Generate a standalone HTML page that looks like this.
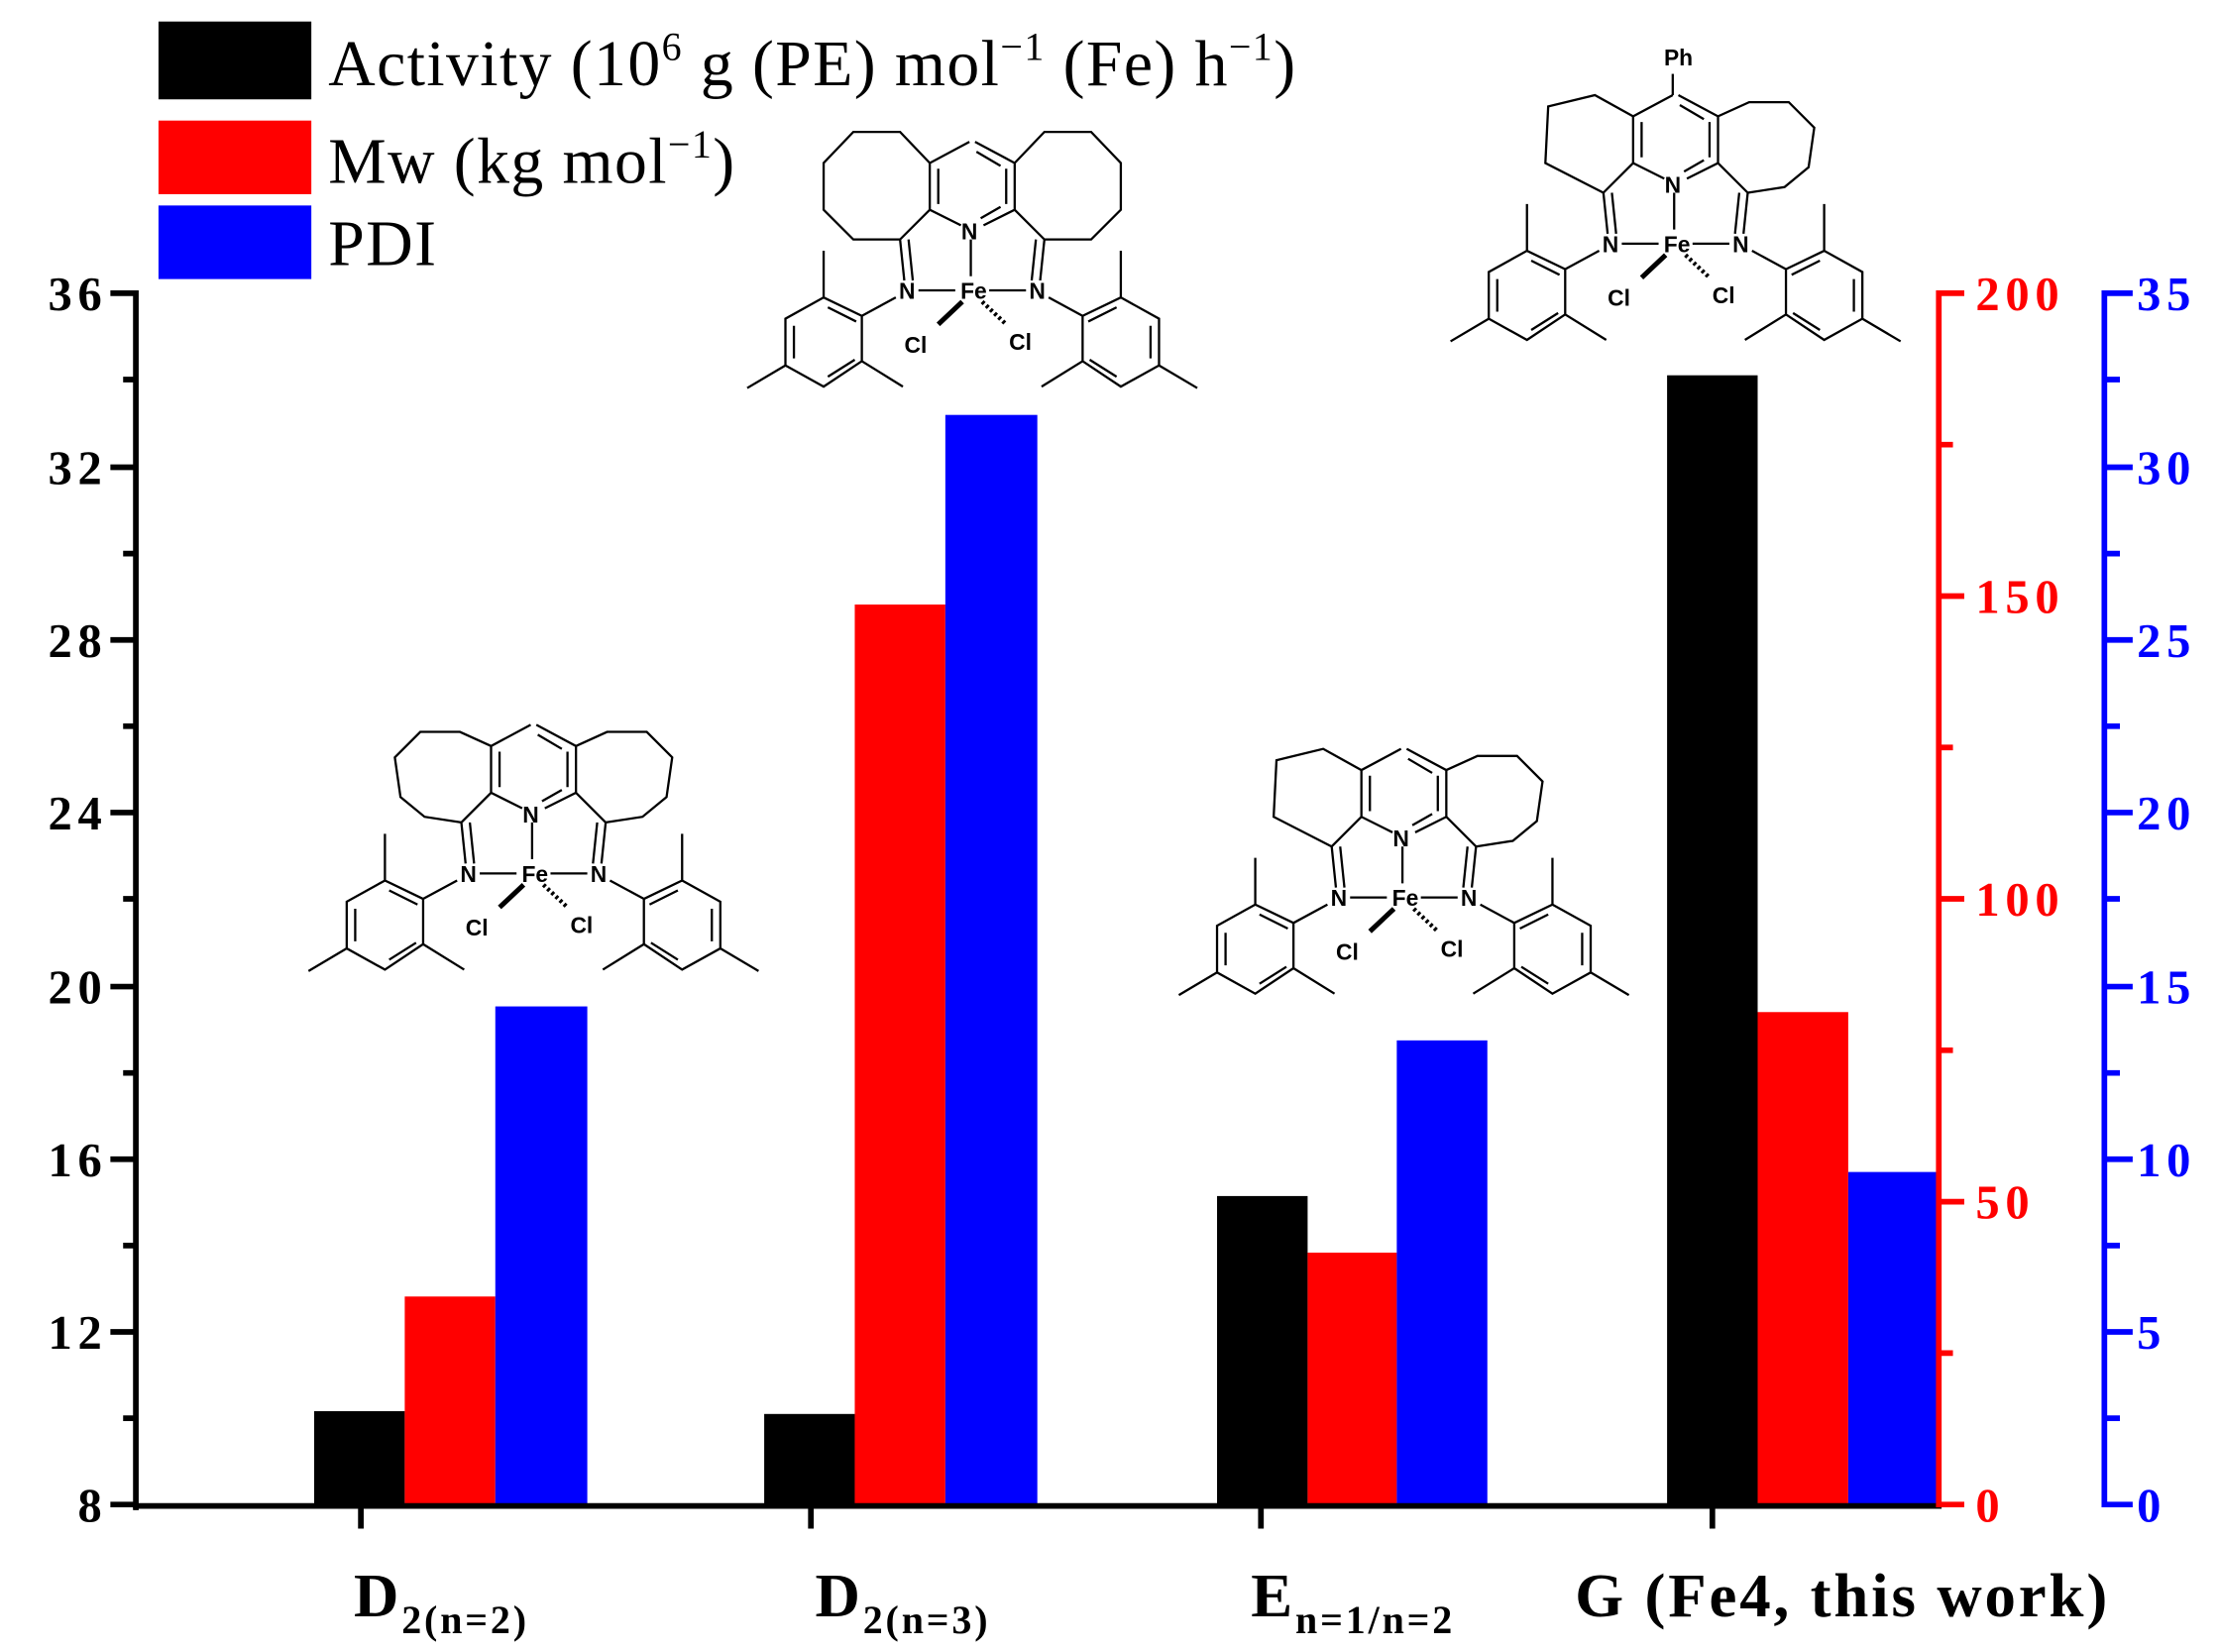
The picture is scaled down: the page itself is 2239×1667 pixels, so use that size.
<!DOCTYPE html>
<html><head><meta charset="utf-8"><style>
html,body{margin:0;padding:0;background:#fff;}
svg{display:block;}
.t{font-family:"Liberation Serif",serif;font-weight:bold;}
.s{font-family:"Liberation Sans",sans-serif;font-weight:bold;font-size:16px;fill:#000;}
</style></head><body>
<svg width="2239" height="1667" viewBox="0 0 1568 1167" xmlns="http://www.w3.org/2000/svg">
<defs>
<g id="half" fill="none" stroke="#000" stroke-width="1.6">
<path d="M0,-63 L-28,-48 L-28,-15 L-6,-4 M-22,-44 L-22,-19 M-28,-15 L-49,6 M-49,6 L-46,35 M-43,6 L-40,35 M-36,42 L-10,42 M-52,47 L-76,60 M-76,60 L-103,47 L-130,62 L-130,95 L-103,110 L-76,92 Z M-103,47 L-103,14 M-130,95 L-157,111 M-76,92 L-47,110 M-100,54 L-80,64 M-124,67 L-124,90 M-100,103 L-81,91"/>
</g>
<g id="core">
<use href="#half"/>
<use href="#half" transform="translate(4,0) scale(-1,1)"/>
<path d="M1,6 L1,32 M5,-56 L22,-46 M8,-9 L22,-17" stroke="#000" stroke-width="1.6" fill="none"/>
<path d="M-5,50 L-22,66" stroke="#000" stroke-width="3.5"/>
<path d="M9,50 L26,66" stroke="#000" stroke-width="3" stroke-dasharray="2,2"/>
</g>
<path id="r8" fill="none" stroke="#000" stroke-width="1.6" d="M-28,-48 L-49,-70 L-82,-70 L-103,-48 L-103,-15 L-82,6 L-49,6"/>
<path id="r7" fill="none" stroke="#000" stroke-width="1.6" d="M-28,-48 L-50,-58 L-78,-58 L-96,-40 L-92,-12 L-75,2 L-49,6"/>
<path id="r6" fill="none" stroke="#000" stroke-width="1.6" d="M-28,-48 L-55,-63 L-88,-55 L-90,-15 L-49,6"/>
</defs>

<!-- legend -->
<rect x="112" y="15" width="108" height="55" fill="#000"/>
<rect x="112" y="85" width="108" height="52" fill="#f00"/>
<rect x="112" y="145" width="108" height="52" fill="#00f"/>
<g font-family="Liberation Serif,serif" font-size="46" letter-spacing="1">
<text x="232" y="60">Activity (10<tspan dy="-18" font-size="28">6</tspan><tspan dy="18"> g (PE) mol</tspan><tspan dy="-18" font-size="28">−1</tspan><tspan dy="18"> (Fe) h</tspan><tspan dy="-18" font-size="28">−1</tspan><tspan dy="18">)</tspan></text>
<text x="232" y="129">Mw (kg mol<tspan dy="-18" font-size="28">−1</tspan><tspan dy="18">)</tspan></text>
<text x="232" y="187">PDI</text>
</g>

<!-- bars -->
<g>
<rect x="222" y="997" width="64" height="66" fill="#000"/>
<rect x="286" y="916" width="64" height="147" fill="#f00"/>
<rect x="350" y="711" width="65" height="352" fill="#00f"/>
<rect x="540" y="999" width="64" height="64" fill="#000"/>
<rect x="604" y="427" width="64" height="636" fill="#f00"/>
<rect x="668" y="293" width="65" height="770" fill="#00f"/>
<rect x="860" y="845" width="64" height="218" fill="#000"/>
<rect x="924" y="885" width="63" height="178" fill="#f00"/>
<rect x="987" y="735" width="64" height="328" fill="#00f"/>
<rect x="1178" y="265" width="64" height="798" fill="#000"/>
<rect x="1242" y="715" width="64" height="348" fill="#f00"/>
<rect x="1306" y="828" width="64" height="235" fill="#00f"/>
</g>

<!-- left axis -->
<g stroke="#000" stroke-width="4">
<line x1="96" y1="205" x2="96" y2="1067"/>
<line x1="94" y1="1064" x2="1372" y2="1064"/>
<path d="M78,207H96 M78,330H96 M78,452H96 M78,574H96 M78,697H96 M78,819H96 M78,941H96 M78,1063H96 M87,268H96 M87,391H96 M87,513H96 M87,635H96 M87,758H96 M87,880H96 M87,1002H96"/>
<path d="M255,1064V1080 M573,1064V1080 M891,1064V1080 M1210,1064V1080"/>
</g>
<g class="t" font-size="34" letter-spacing="4" text-anchor="end" fill="#000">
<text x="76" y="219">36</text><text x="76" y="342">32</text><text x="76" y="464">28</text><text x="76" y="586">24</text><text x="76" y="709">20</text><text x="76" y="831">16</text><text x="76" y="953">12</text><text x="76" y="1075">8</text>
</g>

<!-- red axis -->
<g stroke="#f00" stroke-width="4">
<line x1="1370" y1="205" x2="1370" y2="1065"/>
<path d="M1370,207H1388 M1370,421H1388 M1370,635H1388 M1370,849H1388 M1370,1063H1388 M1370,314H1380 M1370,528H1380 M1370,742H1380 M1370,956H1380"/>
</g>
<g class="t" font-size="34" letter-spacing="4" fill="#f00">
<text x="1396" y="219">200</text><text x="1396" y="433">150</text><text x="1396" y="647">100</text><text x="1396" y="861">50</text><text x="1396" y="1075">0</text>
</g>

<!-- blue axis -->
<g stroke="#00f" stroke-width="4">
<line x1="1487" y1="205" x2="1487" y2="1065"/>
<path d="M1487,207H1507 M1487,330H1507 M1487,452H1507 M1487,574H1507 M1487,697H1507 M1487,819H1507 M1487,941H1507 M1487,1063H1507 M1487,268H1498 M1487,391H1498 M1487,513H1498 M1487,635H1498 M1487,758H1498 M1487,880H1498 M1487,1002H1498"/>
</g>
<g class="t" font-size="34" letter-spacing="4" fill="#00f">
<text x="1510" y="219">35</text><text x="1510" y="342">30</text><text x="1510" y="464">25</text><text x="1510" y="586">20</text><text x="1510" y="709">15</text><text x="1510" y="831">10</text><text x="1510" y="953">5</text><text x="1510" y="1075">0</text>
</g>

<!-- x labels -->
<g class="t" fill="#000" letter-spacing="2">
<text x="250" y="1142" font-size="44">D<tspan font-size="28" dy="12">2(n=2)</tspan></text>
<text x="576" y="1142" font-size="44">D<tspan font-size="28" dy="12">2(n=3)</tspan></text>
<text x="884" y="1142" font-size="44">E<tspan font-size="28" dy="12">n=1/n=2</tspan></text>
<text x="1302" y="1142" font-size="44" text-anchor="middle">G (Fe4, this work)</text>
</g>

<!-- structures -->
<g transform="translate(375,575)">
<use href="#core"/><use href="#r7"/><use href="#r7" transform="translate(4,0) scale(-1,1)"/>
<text class="s" x="0" y="6" text-anchor="middle">N</text>
<text class="s" x="-44" y="48" text-anchor="middle">N</text>
<text class="s" x="48" y="48" text-anchor="middle">N</text>
<text class="s" x="3" y="48" text-anchor="middle">Fe</text>
<text class="s" x="-38" y="86" text-anchor="middle">Cl</text>
<text class="s" x="36" y="84" text-anchor="middle">Cl</text>
</g>
<g transform="translate(685,163)">
<use href="#core"/><use href="#r8"/><use href="#r8" transform="translate(4,0) scale(-1,1)"/>
<text class="s" x="0" y="6" text-anchor="middle">N</text>
<text class="s" x="-44" y="48" text-anchor="middle">N</text>
<text class="s" x="48" y="48" text-anchor="middle">N</text>
<text class="s" x="3" y="48" text-anchor="middle">Fe</text>
<text class="s" x="-38" y="86" text-anchor="middle">Cl</text>
<text class="s" x="36" y="84" text-anchor="middle">Cl</text>
</g>
<g transform="translate(990,592)">
<use href="#core"/><use href="#r6"/><use href="#r7" transform="translate(4,0) scale(-1,1)"/>
<text class="s" x="0" y="6" text-anchor="middle">N</text>
<text class="s" x="-44" y="48" text-anchor="middle">N</text>
<text class="s" x="48" y="48" text-anchor="middle">N</text>
<text class="s" x="3" y="48" text-anchor="middle">Fe</text>
<text class="s" x="-38" y="86" text-anchor="middle">Cl</text>
<text class="s" x="36" y="84" text-anchor="middle">Cl</text>
</g>
<g transform="translate(1182,130)">
<use href="#core"/><use href="#r6"/><use href="#r7" transform="translate(4,0) scale(-1,1)"/>
<path d="M0,-63 L0,-78" stroke="#000" stroke-width="1.6"/>
<text class="s" x="4" y="-84" text-anchor="middle">Ph</text>
<text class="s" x="0" y="6" text-anchor="middle">N</text>
<text class="s" x="-44" y="48" text-anchor="middle">N</text>
<text class="s" x="48" y="48" text-anchor="middle">N</text>
<text class="s" x="3" y="48" text-anchor="middle">Fe</text>
<text class="s" x="-38" y="86" text-anchor="middle">Cl</text>
<text class="s" x="36" y="84" text-anchor="middle">Cl</text>
</g>
</svg>
</body></html>
